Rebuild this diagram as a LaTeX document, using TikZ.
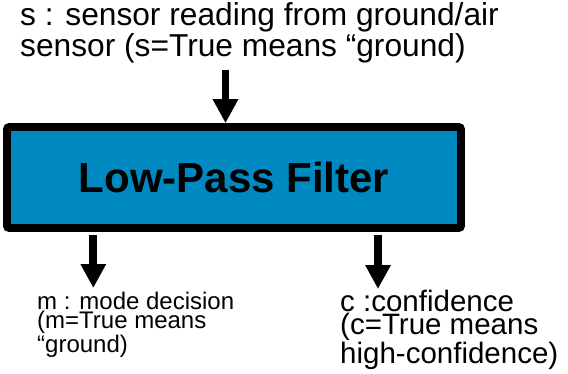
\documentclass[tikz,border=0pt]{standalone}
\usepackage{fontspec}
\setmainfont{Liberation Sans}
\usetikzlibrary{arrows.meta,calc}
\definecolor{lpfblue}{RGB}{0,137,192}
\tikzset{
  flow/.style={line width=7.8pt, -{Triangle[width=24pt,length=24pt]}},
  filterbox/.style={draw=black, line width=7.6pt, fill=lpfblue, rounded corners=2pt,
    minimum width=454pt, minimum height=101pt, inner sep=0pt,
    font=\bfseries\fontsize{42}{46}\selectfont},
  caption/.style={inner sep=0pt, align=left, anchor=base west},
}
\begin{document}
\begin{tikzpicture}[x=1pt,y=-1pt]
\useasboundingbox (0,0) rectangle (568,373);

% sensor input description (anchored at the baseline of its last line)
\node[caption, font=\fontsize{31.7}{28.5}\selectfont] (sIn) at (20,56)
  {s : sensor reading from ground/air\\sensor (s=True means “ground)};

% filter block
\node[filterbox] (lpf) at (234,177.5) {Low-Pass Filter};

% outputs
\node[caption, font=\fontsize{24}{19.5}\selectfont] (mOut) at (37,352)
  {m : mode decision\\(m=True means\\“ground)};
\node[caption, font=\fontsize{29.5}{23}\selectfont] (cOut) at (340,363)
  {c :confidence\\(c=True means\\high-confidence)};

% arrow end points
\coordinate (sTail) at (225.5,70);
\coordinate (mTip) at (93.3,288);
\coordinate (cTip) at (378,289);

\draw[flow] (sTail) -- (sTail |- lpf.north);
\draw[flow] ($(lpf.south -| mTip)+(0,3)$) -- (mTip);
\draw[flow] ($(lpf.south -| cTip)+(0,3)$) -- (cTip);
\end{tikzpicture}
\end{document}
